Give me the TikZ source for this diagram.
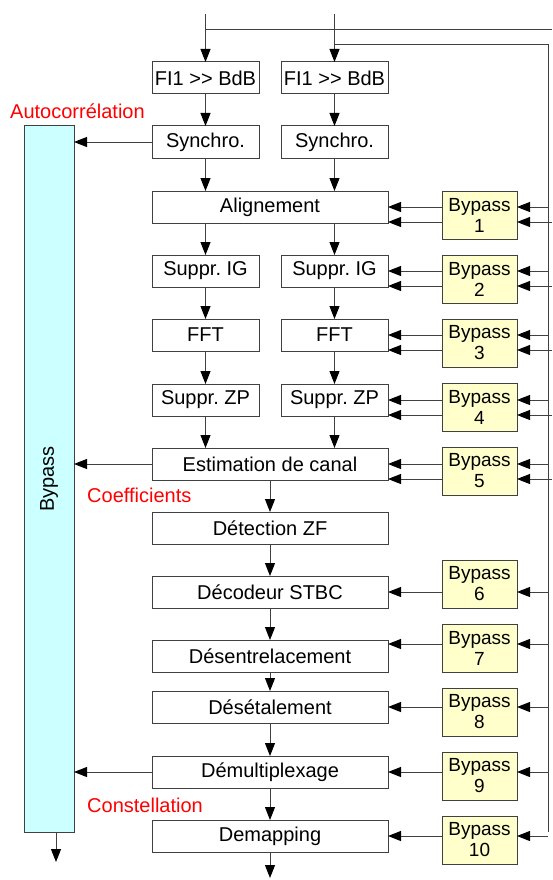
\documentclass[tikz,border=0pt]{standalone}
\usepackage{fontspec}
\setmainfont{Liberation Sans}
\usetikzlibrary{arrows.meta, positioning}
\definecolor{jaune}{HTML}{FFFFCC}
\definecolor{cyanpale}{HTML}{CCFFFF}
\definecolor{trait}{HTML}{404040}
\frenchspacing

\begin{document}
\begin{tikzpicture}[
  x=1pt, y=-1pt,
  font=\fontsize{20}{22}\selectfont,
  bloc/.style={rectangle, draw=trait, line width=1pt, fill=white,
    minimum width=107pt, minimum height=32pt, inner sep=0pt, outer sep=0pt},
  large/.style={bloc, minimum width=236pt},
  bypass/.style={rectangle, draw=trait, line width=1pt, fill=jaune,
    minimum width=75pt, minimum height=48pt, align=center, inner sep=0pt,
    outer sep=0pt, font=\fontsize{19}{21}\selectfont},
  grand/.style={rectangle, draw=trait, line width=1pt, fill=cyanpale,
    minimum width=50pt, minimum height=706pt, outer sep=0pt},
  fleche/.style={-{Triangle[length=13pt, width=10pt, color=black]}, line width=1pt, trait},
  ligne/.style={line width=1pt, trait},
  etiq/.style={text=red, inner sep=0pt},
]
\useasboundingbox (0,0) rectangle (552,880);

% Entrees
\coordinate (haut) at (0,14);
\coordinate (railA) at (552,30);
\coordinate (railB) at (548,45);
\coordinate (railBbas) at (548,832);
\coordinate (sortieBp) at (0,862);
\coordinate (sortie) at (0,878);

% Deux voies
\node[bloc] (fiA) at (205.5,78) {FI1 >{}> BdB};
\node[bloc, right=22pt of fiA] (fiB) {FI1 >{}> BdB};
\node[bloc, below=32pt of fiA] (syncA) {Synchro.};
\node[bloc, below=32pt of fiB] (syncB) {Synchro.};
\node[large, below=33pt of syncA.south west, anchor=north west] (align) {Alignement};
\node[bloc, below=32pt of align.south west, anchor=north west] (supIGA) {Suppr. IG};
\node[bloc, right=22pt of supIGA] (supIGB) {Suppr. IG};
\node[bloc, below=32pt of supIGA] (fftA) {FFT};
\node[bloc, below=32pt of supIGB] (fftB) {FFT};
\node[bloc, below=33pt of fftA] (zpA) {Suppr. ZP};
\node[bloc, below=33pt of fftB] (zpB) {Suppr. ZP};

% Chaine commune
\node[large, below=32pt of zpA.south west, anchor=north west] (est) {Estimation de canal};
\node[large, below=32pt of est] (det) {Détection ZF};
\node[large, below=32pt of det] (dec) {Décodeur STBC};
\node[large, below=32pt of dec] (desent) {Désentrelacement};
\node[large, below=19pt of desent] (deseta) {Désétalement};
\node[large, below=33pt of deseta] (demux) {Démultiplexage};
\node[large, below=32pt of demux] (demap) {Demapping};

% Bypass
\node[bypass, right=54pt of align.north east, anchor=north west] (bp1) {Bypass\\1};
\node[bypass, below=16pt of bp1] (bp2) {Bypass\\2};
\node[bypass, below=16pt of bp2] (bp3) {Bypass\\3};
\node[bypass, below=16pt of bp3] (bp4) {Bypass\\4};
\node[bypass, below=16pt of bp4] (bp5) {Bypass\\5};
\node[bypass, below=65pt of bp5] (bp6) {Bypass\\6};
\node[bypass, below=16pt of bp6] (bp7) {Bypass\\7};
\node[bypass, below=16pt of bp7] (bp8) {Bypass\\8};
\node[bypass, below=16pt of bp8] (bp9) {Bypass\\9};
\node[bypass, below=16pt of bp9] (bp10) {Bypass\\10};

\node[grand, left=78pt of syncA.north west, anchor=north east] (bpg) {};
\node[rotate=90] (bpgtxt) at (bpg.center) {Bypass};

% Etiquettes
\node[etiq, anchor=west] (autoc) at ([xshift=-14pt, yshift=15pt]bpg.north west) {Autocorrélation};
\node[etiq, anchor=west] (coef) at ([xshift=-65pt, yshift=-15pt]est.south west) {Coefficients};
\node[etiq, anchor=west] (const) at ([xshift=-65pt, yshift=-17pt]demux.south west) {Constellation};

% Lignes d'entree
\draw[fleche] (fiA |- haut) -- (fiA);
\draw[fleche] (fiB |- haut) -- (fiB);
\draw[ligne] (fiA |- railA) -- (railA);
\draw[ligne] (fiB |- railB) -- (railB) -- (railBbas);

% Fleches verticales
\foreach \a/\b in {fiA/syncA, fiB/syncB, supIGA/fftA, supIGB/fftB, fftA/zpA,
  fftB/zpB, est/det, det/dec, dec/desent, desent/deseta, deseta/demux, demux/demap}
  \draw[fleche] (\a) -- (\b);
\foreach \a/\b in {syncA/align, syncB/align, zpA/est, zpB/est}
  \draw[fleche] (\a) -- (\a |- \b.north);
\foreach \b in {supIGA, supIGB}
  \draw[fleche] (align.south -| \b) -- (\b);
\draw[fleche] (demap) -- (demap |- sortie);
\coordinate (bpbas) at ([xshift=7pt]bpg.south);
\draw[fleche] (bpbas) -- (bpbas |- sortieBp);

% Vers le bypass general
\foreach \b in {syncA, est, demux}
  \draw[fleche] (\b) -- (\b -| bpg.east);

% Commandes de bypass
\foreach \b/\n in {align/1, supIGB/2, fftB/3, zpB/4, est/5} {
  \draw[fleche] (\b.east -| railB) -- (\b.east -| bp\n.east);
  \draw[fleche] (\b.east -| bp\n.west) -- (\b.east);
  \coordinate (bas) at ([yshift=-15pt]\b.east);
  \draw[fleche] (bas -| railA) -- (bas -| bp\n.east);
  \draw[fleche] (bas -| bp\n.west) -- (bas);
}
\foreach \b/\n/\d in {dec/6/0, desent/7/12, deseta/8/0, demux/9/0, demap/10/0} {
  \coordinate (h) at ([yshift=\d pt]\b.east);
  \draw[fleche] (h -| railB) -- (h -| bp\n.east);
  \draw[fleche] (h -| bp\n.west) -- (h);
}

\end{tikzpicture}
\end{document}
